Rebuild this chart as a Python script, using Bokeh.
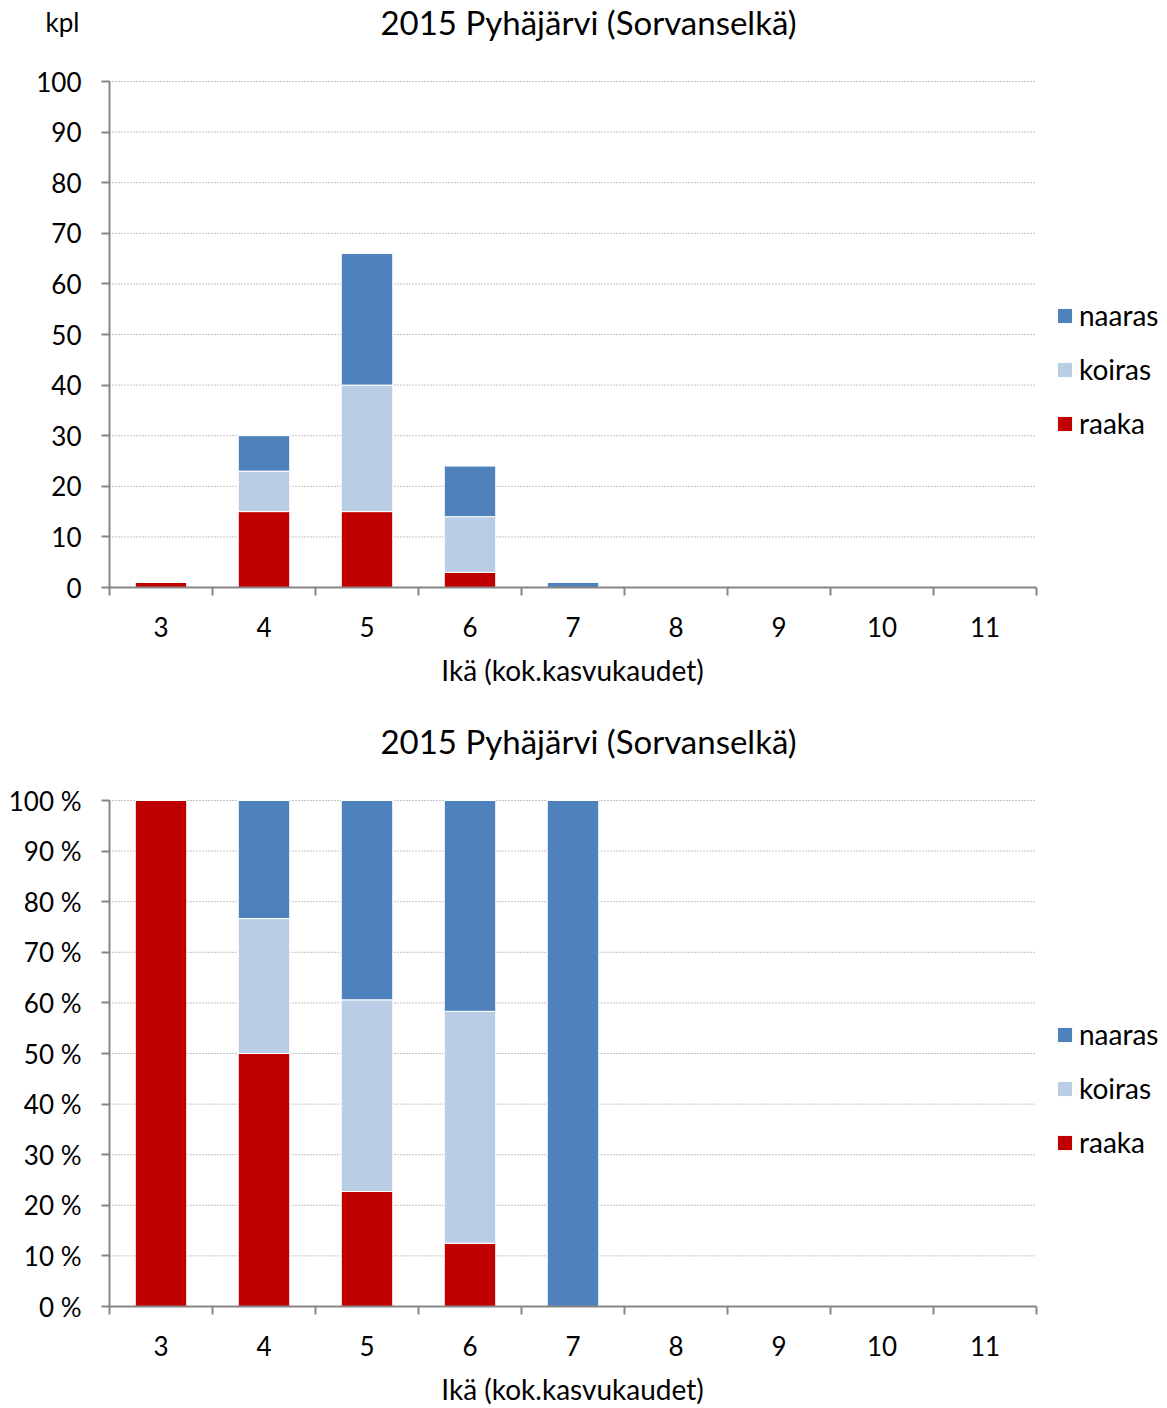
from bokeh.plotting import figure
from bokeh.models import FixedTicker, Legend, LegendItem, Label, ColumnDataSource, Range1d
from bokeh.layouts import column
from bokeh.embed import file_html
from bokeh.resources import INLINE

ages = [3, 4, 5, 6, 7, 8, 9, 10, 11]
raaka = [1, 15, 15, 3, 0, 0, 0, 0, 0]
koiras = [0, 8, 25, 11, 0, 0, 0, 0, 0]
naaras = [0, 7, 26, 10, 1, 0, 0, 0, 0]
series = ["raaka", "koiras", "naaras"]
colors = ["#C00000", "#B9CDE5", "#4F81BD"]
title_text = "2015 Pyhäjärvi (Sorvanselkä)"
x_title = "Ikä (kok.kasvukaudet)"
y_unit = "kpl"
y_ticks = [0, 10, 20, 30, 40, 50, 60, 70, 80, 90, 100]
count_labels = [str(t) for t in y_ticks]
pct_labels = [f"{t} %" for t in y_ticks]

FONT = "Lato"
GRAY = "#868686"
W = 1167
AX_L, AX_R = 109, 1036          # pixel positions of the plot area
PLOT_H = 506                    # pixel height of the 0..100 area

totals = [r + k + n for r, k, n in zip(raaka, koiras, naaras)]


def pct(vals):
    return [v / t * 100 if t else 0 for v, t in zip(vals, totals)]


def make_fig(data, labels, height, top_px, zero_px, show_unit):
    x0, x1 = ages[0] - 0.5, ages[-1] + 0.5
    ppu = (AX_R - AX_L) / (x1 - x0)
    ypu = PLOT_H / 100
    src = ColumnDataSource(dict(age=ages, **data))
    p = figure(width=W, height=height, output_backend="svg", toolbar_location=None,
               x_range=Range1d(x0 - AX_L / ppu, x1 + (W - AX_R) / ppu),
               y_range=Range1d(-zero_px / ypu, 100 + top_px / ypu),
               min_border=0, min_border_left=0, min_border_right=0,
               min_border_top=0, min_border_bottom=0)
    p.outline_line_color = None
    p.xgrid.visible = False
    p.ygrid.visible = False
    # horizontal dotted gridlines over the plot area
    p.segment(x0=[x0] * len(y_ticks), x1=[x1] * len(y_ticks), y0=y_ticks, y1=y_ticks,
              line_color=GRAY, line_width=1, line_dash="1 2", level="underlay")
    rs = p.vbar_stack(series, x="age", width=0.5, color=colors, line_color="white",
                      line_width=1, source=src)

    xa = p.xaxis[0]
    xa.fixed_location = 0
    xa.bounds = (x0, x1)
    xa.ticker = FixedTicker(ticks=ages, minor_ticks=[a - 0.5 for a in ages] + [x1])
    xa.major_tick_out = 0
    xa.major_tick_in = 0
    xa.minor_tick_out = 8
    xa.minor_tick_in = 0
    xa.minor_tick_line_color = GRAY
    xa.minor_tick_line_width = 2
    xa.axis_line_color = GRAY
    xa.axis_line_width = 2
    xa.major_label_standoff = 21
    xa.major_label_text_font = FONT
    xa.major_label_text_font_size = "26px"
    xa.major_label_text_color = "black"

    ya = p.yaxis[0]
    ya.fixed_location = x0
    ya.bounds = (0, 100)
    ya.ticker = FixedTicker(ticks=y_ticks, minor_ticks=[])
    ya.major_label_overrides = {t: l for t, l in zip(y_ticks, labels)}
    ya.major_tick_out = 8
    ya.major_tick_in = 0
    ya.major_tick_line_color = GRAY
    ya.major_tick_line_width = 2
    ya.axis_line_color = GRAY
    ya.axis_line_width = 2
    ya.major_label_standoff = 20
    ya.major_label_text_font = FONT
    ya.major_label_text_font_size = "26px"
    ya.major_label_text_color = "black"

    legend = Legend(items=[LegendItem(label=series[i], renderers=[rs[i]]) for i in (2, 1, 0)],
                    location=(1055, zero_px + 147), orientation="vertical",
                    border_line_color=None, background_fill_alpha=0, padding=0, spacing=20,
                    glyph_width=19, glyph_height=19, label_standoff=5, label_text_font=FONT,
                    label_text_font_size="28px", label_text_color="black")
    p.add_layout(legend)

    p.add_layout(Label(x=588, y=zero_px + 566, x_units="screen", y_units="screen",
                       text=title_text, text_align="center", text_baseline="middle",
                       text_font=FONT, text_font_size="33px", text_color="black"))
    p.add_layout(Label(x=572, y=zero_px - 82, x_units="screen", y_units="screen",
                       text=x_title, text_align="center", text_baseline="middle",
                       text_font=FONT, text_font_size="28px", text_color="black"))
    if show_unit:
        p.add_layout(Label(x=62, y=zero_px + 566, x_units="screen", y_units="screen",
                           text=y_unit, text_align="center", text_baseline="middle",
                           text_font=FONT, text_font_size="26px", text_color="black"))
    return p


p1 = make_fig(dict(raaka=raaka, koiras=koiras, naaras=naaras), count_labels, 692, 81, 105, True)
p2 = make_fig(dict(raaka=pct(raaka), koiras=pct(koiras), naaras=pct(naaras)), pct_labels,
              716, 108, 102, False)

layout = column(p1, p2, spacing=0)
open("out.html", "w").write(file_html(layout, INLINE))
